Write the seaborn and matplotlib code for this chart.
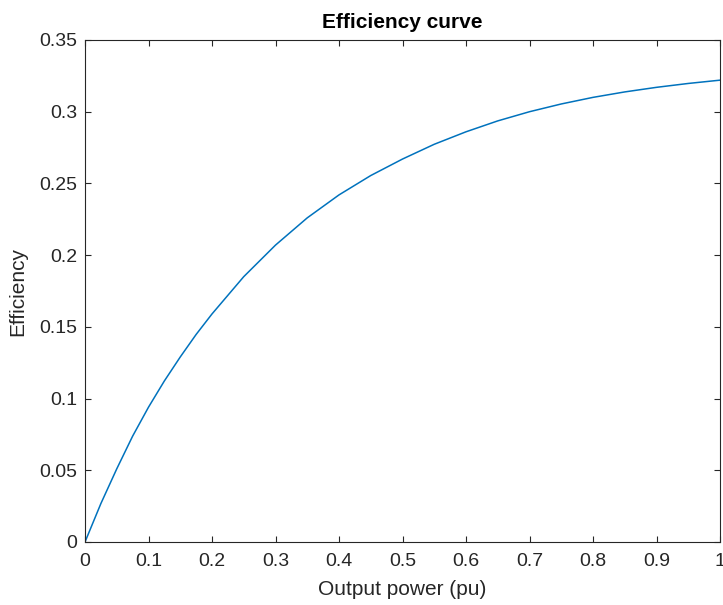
import matplotlib
matplotlib.use("Agg")
import matplotlib.pyplot as plt
import seaborn as sns
import pandas as pd

output_power = [0.0, 0.025, 0.05, 0.075, 0.1, 0.125, 0.15, 0.175, 0.2, 0.25, 0.3, 0.35,
                0.4, 0.45, 0.5, 0.55, 0.6, 0.65, 0.7, 0.75, 0.8, 0.85, 0.9, 0.95, 1.0]
efficiency = [0.0, 0.0268, 0.051, 0.0738, 0.094, 0.1123, 0.129, 0.1447, 0.159, 0.185,
              0.207, 0.226, 0.242, 0.2555, 0.267, 0.2773, 0.286, 0.2936, 0.300, 0.3054,
              0.310, 0.3138, 0.317, 0.3197, 0.322]
x_ticks = [0, 0.1, 0.2, 0.3, 0.4, 0.5, 0.6, 0.7, 0.8, 0.9, 1]
x_tick_labels = ["0", "0.1", "0.2", "0.3", "0.4", "0.5", "0.6", "0.7", "0.8", "0.9", "1"]
y_ticks = [0, 0.05, 0.1, 0.15, 0.2, 0.25, 0.3, 0.35]
y_tick_labels = ["0", "0.05", "0.1", "0.15", "0.2", "0.25", "0.3", "0.35"]

sns.set_style("ticks")
plt.rcParams['font.family'] = ['Liberation Sans', 'DejaVu Sans']

df = pd.DataFrame({"Output power (pu)": output_power, "Efficiency": efficiency})

fig = plt.figure(figsize=(7.23, 6.05), dpi=100)
ax = fig.add_axes([85/723, 63/605, 635/723, 502/605])
sns.lineplot(data=df, x="Output power (pu)", y="Efficiency", ax=ax,
             color="#0072BD", linewidth=1.1)
ax.set_xlim(0, 1)
ax.set_ylim(0, 0.35)
ax.set_xticks(x_ticks)
ax.set_xticklabels(x_tick_labels)
ax.set_yticks(y_ticks)
ax.set_yticklabels(y_tick_labels)
for s in ax.spines.values():
    s.set_visible(True)
    s.set_color("#262626")
    s.set_linewidth(0.8)
ax.tick_params(direction="in", length=4.5, width=0.8, colors="#262626",
               labelsize=14, top=True, right=True)
ax.tick_params(axis="x", pad=8)
ax.tick_params(axis="y", pad=5.5)
ax.set_xlabel("Output power (pu)", fontsize=15, color="#262626", labelpad=7)
ax.set_ylabel("Efficiency", fontsize=15, color="#262626", labelpad=9)
ax.set_title("Efficiency curve", fontsize=15, fontweight="bold", color="black", pad=9)

fig.savefig("out.png", dpi=100)
